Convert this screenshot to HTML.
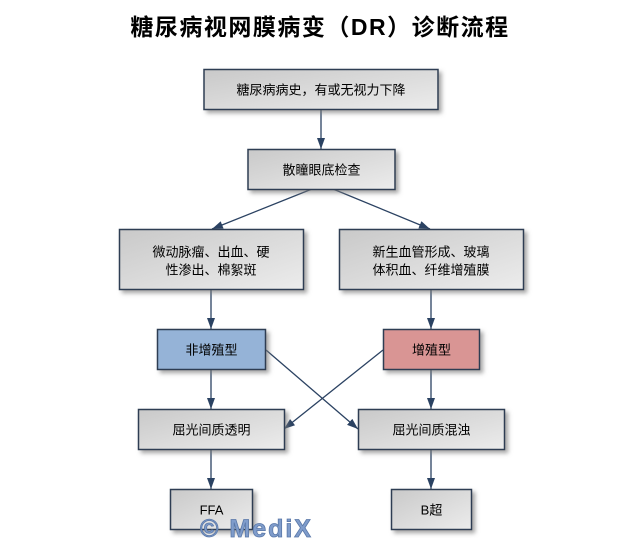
<!DOCTYPE html>
<html>
<head>
<meta charset="utf-8">
<style>
html,body{margin:0;padding:0;background:#fff;}
body{width:642px;height:538px;overflow:hidden;}
svg{display:block;}
.t{font-family:"Liberation Sans","Noto Sans CJK SC",sans-serif;font-size:13px;fill:#000;}
</style>
</head>
<body>
<svg width="642" height="538" viewBox="0 0 642 538" xmlns="http://www.w3.org/2000/svg">
<defs>
<linearGradient id="g" x1="0" y1="0" x2="1" y2="1">
<stop offset="0" stop-color="#c9c9c9"/>
<stop offset="1" stop-color="#ececec"/>
</linearGradient>
<filter id="sh" x="-20%" y="-30%" width="150%" height="170%">
<feDropShadow dx="3" dy="3" stdDeviation="2" flood-color="#777" flood-opacity="0.65"/>
</filter>
<marker id="ar" markerUnits="userSpaceOnUse" markerWidth="12" markerHeight="10" refX="11" refY="4" orient="auto">
<path d="M0,0 L11,4 L0,8 Z" fill="#2b4262"/>
</marker>
</defs>

<text x="320" y="27" text-anchor="middle" dominant-baseline="central" style="font-family:'Liberation Sans','Noto Sans CJK SC',sans-serif;font-size:23px;font-weight:bold;letter-spacing:1.5px;fill:#000;">糖尿病视网膜病变（DR）诊断流程</text>

<g stroke="#2b4262" stroke-width="1.3" fill="none">
<line x1="321" y1="109" x2="321" y2="149" marker-end="url(#ar)"/>
<line x1="312" y1="189" x2="212" y2="229" marker-end="url(#ar)"/>
<line x1="333" y1="189" x2="430" y2="229" marker-end="url(#ar)"/>
<line x1="211" y1="289" x2="211" y2="329" marker-end="url(#ar)"/>
<line x1="431" y1="289" x2="431" y2="329" marker-end="url(#ar)"/>
<line x1="211" y1="369" x2="211" y2="409" marker-end="url(#ar)"/>
<line x1="431" y1="369" x2="431" y2="409" marker-end="url(#ar)"/>
<line x1="266" y1="350" x2="358" y2="429" marker-end="url(#ar)"/>
<line x1="383" y1="350" x2="284" y2="429" marker-end="url(#ar)"/>
<line x1="211" y1="449" x2="211" y2="489" marker-end="url(#ar)"/>
<line x1="431" y1="449" x2="431" y2="489" marker-end="url(#ar)"/>
</g>

<g stroke="#2e3e52" stroke-width="1.5" filter="url(#sh)">
<rect x="204" y="69.5" width="234" height="40" fill="url(#g)"/>
<rect x="248" y="149.5" width="147" height="40" fill="url(#g)"/>
<rect x="119.5" y="229.5" width="184" height="60" fill="url(#g)"/>
<rect x="339.5" y="229.5" width="184" height="60" fill="url(#g)"/>
<rect x="157.5" y="329.5" width="108" height="40" fill="#95b3d7"/>
<rect x="383.5" y="329.5" width="96" height="40" fill="#d99594"/>
<rect x="138.5" y="409.5" width="146" height="40" fill="url(#g)"/>
<rect x="358.5" y="409.5" width="146" height="40" fill="url(#g)"/>
<rect x="170.5" y="489.5" width="82" height="40" fill="url(#g)"/>
<rect x="391.5" y="489.5" width="80" height="40" fill="url(#g)"/>
</g>

<g>
<text class="t" x="321" y="90" text-anchor="middle" dominant-baseline="central">糖尿病病史，有或无视力下降</text>
<text class="t" x="321.5" y="170" text-anchor="middle" dominant-baseline="central">散瞳眼底检查</text>
<text class="t" x="211" y="252" text-anchor="middle" dominant-baseline="central">微动脉瘤、出血、硬</text>
<text class="t" x="211" y="270" text-anchor="middle" dominant-baseline="central">性渗出、棉絮斑</text>
<text class="t" x="431" y="252" text-anchor="middle" dominant-baseline="central">新生血管形成、玻璃</text>
<text class="t" x="431" y="270" text-anchor="middle" dominant-baseline="central">体积血、纤维增殖膜</text>
<text class="t" x="211.5" y="350" text-anchor="middle" dominant-baseline="central">非增殖型</text>
<text class="t" x="431.5" y="350" text-anchor="middle" dominant-baseline="central">增殖型</text>
<text class="t" x="211.5" y="430" text-anchor="middle" dominant-baseline="central">屈光间质透明</text>
<text class="t" x="431.5" y="430" text-anchor="middle" dominant-baseline="central">屈光间质混浊</text>
<text class="t" x="211.5" y="510" text-anchor="middle" dominant-baseline="central">FFA</text>
<text class="t" x="431.5" y="510" text-anchor="middle" dominant-baseline="central">B超</text>
</g>

<text x="200" y="537" style="font-family:'Liberation Sans',sans-serif;font-size:25px;font-weight:bold;fill:#7f9ccb;stroke:#5a78a8;stroke-width:0.8;letter-spacing:2px;">© MediX</text>
</svg>
</body>
</html>
